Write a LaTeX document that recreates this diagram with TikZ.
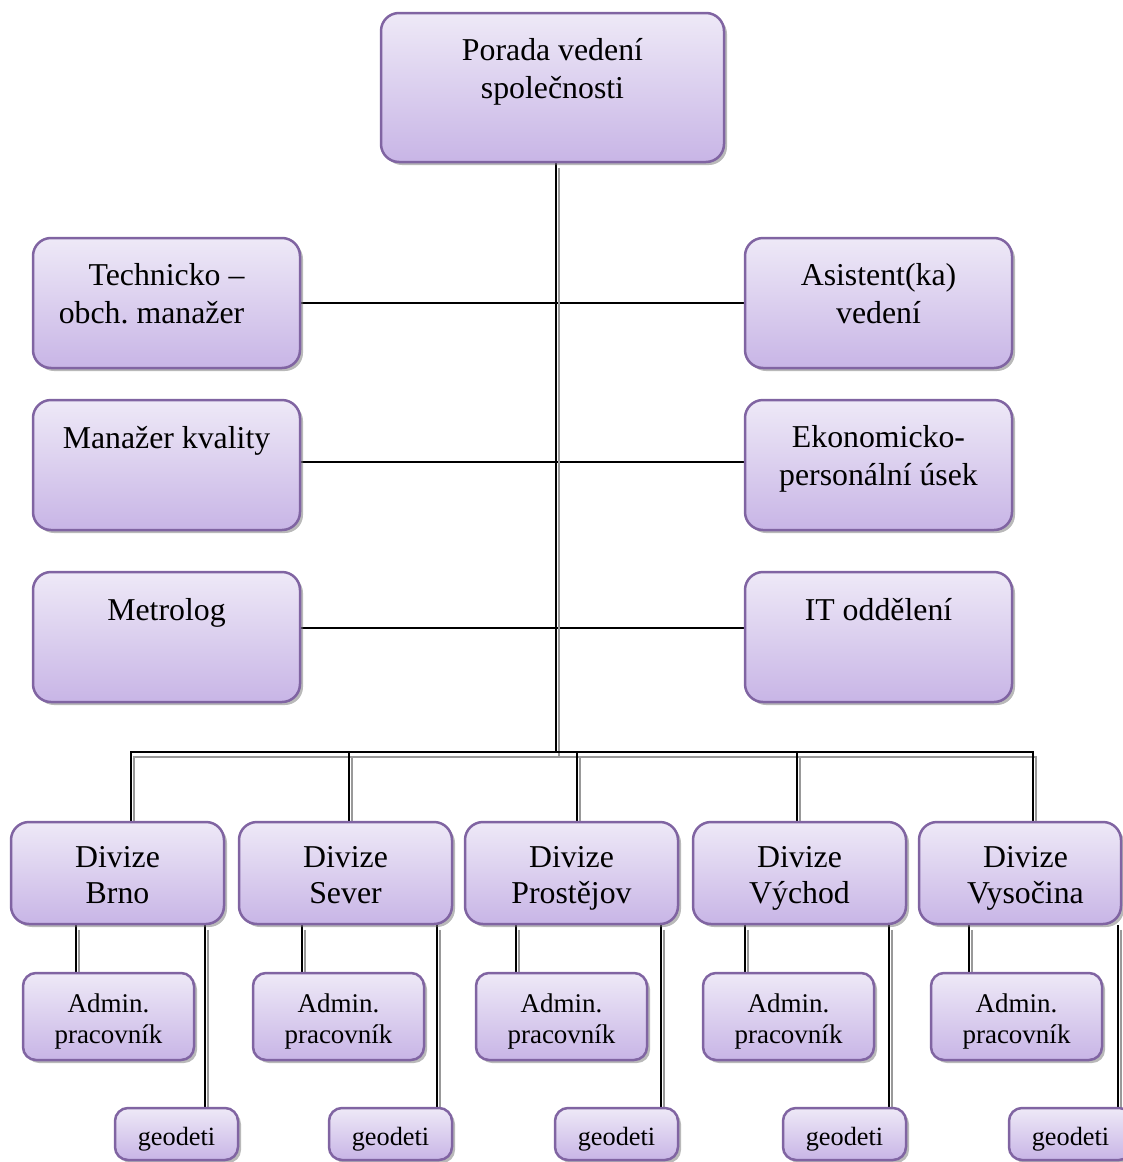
\documentclass[tikz,border=0pt]{standalone}
\usepackage{fontspec}
\setmainfont{Liberation Serif}
\usetikzlibrary{shadows}
\definecolor{boxline}{HTML}{8064A2}
\definecolor{boxtop}{HTML}{EEE9F7}
\definecolor{boxbot}{HTML}{C8B5E6}
\pgfdeclarelayer{background}
\pgfsetlayers{background,main}
\frenchspacing
\newcommand\bt[6]{\begin{minipage}[c][#2pt][t]{#1pt}\centering\frenchspacing\fontsize{#4}{#5}\selectfont\rule{0pt}{#3pt}#6\end{minipage}}
\begin{document}
\begin{tikzpicture}[x=1pt,y=-1pt,
  box/.style={draw=boxline, line width=2.5pt, rounded corners=18pt,
    top color=boxtop, bottom color=boxbot, inner sep=0pt,
    drop shadow={shadow xshift=3pt, shadow yshift=-3pt, fill=black!55, opacity=0.5}},
  sbox/.style={box, rounded corners=13pt},
  plain/.style={line width=2pt, black},
  cline/.style={line width=2pt, black,
    preaction={draw=black!40, line width=2pt, transform canvas={xshift=2.5pt,yshift=-4.5pt}}}]
\useasboundingbox (0,0) rectangle (1122,1162);

% top
\node[box] (top) at (552.5,87.5) {\bt{343}{149}{47}{31.8}{38}{Porada vedení\\společnosti}};
% side boxes
\node[box] (L1) at (166.5,303) {\bt{267}{130}{47}{31.8}{38}{Technicko –\\obch. manažer\rule{30pt}{0pt}}};
\node[box] (L2) at (166.5,465) {\bt{267}{130}{48}{31.8}{38}{Manažer kvality}};
\node[box] (L3) at (166.5,637) {\bt{267}{130}{48}{31.8}{38}{Metrolog}};
\node[box] (R1) at (878.5,303) {\bt{267}{130}{47}{31.8}{38}{Asistent(ka)\\vedení}};
\node[box] (R2) at (878.5,465) {\bt{267}{130}{47}{31.8}{38}{Ekonomicko-\\personální úsek}};
\node[box] (R3) at (878.5,637) {\bt{267}{130}{48}{31.8}{38}{IT oddělení}};
% divisions
\node[box] (D1) at (117.5,873) {\bt{213}{102}{45}{31.8}{36}{Divize\\Brno}};
\node[box] (D2) at (345.5,873) {\bt{213}{102}{45}{31.8}{36}{Divize\\Sever}};
\node[box] (D3) at (571.5,873) {\bt{213}{102}{45}{31.8}{36}{Divize\\Prostějov}};
\node[box] (D4) at (799.5,873) {\bt{213}{102}{45}{31.8}{36}{Divize\\Východ}};
\node[box] (D5) at (1020,873) {\bt{202}{102}{45}{31.8}{36}{\rule{11pt}{0pt}Divize\\\rule{11pt}{0pt}Vysočina}};
% admin
\node[sbox] (A1) at (108.5,1016.5) {\bt{171}{87}{39}{27}{31}{Admin.\\pracovník}};
\node[sbox] (A2) at (338.5,1016.5) {\bt{171}{87}{39}{27}{31}{Admin.\\pracovník}};
\node[sbox] (A3) at (561.5,1016.5) {\bt{171}{87}{39}{27}{31}{Admin.\\pracovník}};
\node[sbox] (A4) at (788.5,1016.5) {\bt{171}{87}{39}{27}{31}{Admin.\\pracovník}};
\node[sbox] (A5) at (1016.5,1016.5) {\bt{171}{87}{39}{27}{31}{Admin.\\pracovník}};
% geodeti
\node[sbox] (G1) at (176.5,1134) {\bt{123}{52}{37}{26.3}{31}{geodeti}};
\node[sbox] (G2) at (390.5,1134) {\bt{123}{52}{37}{26.3}{31}{geodeti}};
\node[sbox] (G3) at (616.5,1134) {\bt{123}{52}{37}{26.3}{31}{geodeti}};
\node[sbox] (G4) at (844.5,1134) {\bt{123}{52}{37}{26.3}{31}{geodeti}};
\node[sbox] (G5) at (1070.5,1134) {\bt{123}{52}{37}{26.3}{31}{geodeti}};

% helper coordinates
\coordinate (bus) at (556,752);
\foreach \i/\dx/\ax/\gx in {1/131/76/205, 2/349/302/437, 3/577/516/661, 4/797/745/889, 5/1033/969/1118}{
  \coordinate (dx\i) at (\dx,0);
  \coordinate (ax\i) at (\ax,0);
  \coordinate (gx\i) at (\gx,0);
}

\begin{pgfonlayer}{background}
  % side connectors
  \draw[plain] (L1.east) -- (R1.west);
  \draw[plain] ([yshift=3pt]L2.east) -- ([yshift=3pt]R2.west);
  \draw[plain] ([yshift=9pt]L3.east) -- ([yshift=9pt]R3.west);
  % trunk and bus
  \draw[cline] (top.south -| bus) -- (bus);
  \draw[cline] (D1.north -| dx1) |- (bus) -| (D5.north -| dx5);
  \foreach \i in {2,3,4}{
    \draw[cline] (bus -| dx\i) -- (D\i.north -| dx\i);
  }
  % admin and geodeti connectors
  \foreach \i in {1,...,5}{
    \draw[cline] (D\i.south -| ax\i) -- (A\i.north -| ax\i);
    \draw[cline] (D\i.south -| gx\i) -- (G\i.north -| gx\i);
  }
\end{pgfonlayer}
\end{tikzpicture}
\end{document}
